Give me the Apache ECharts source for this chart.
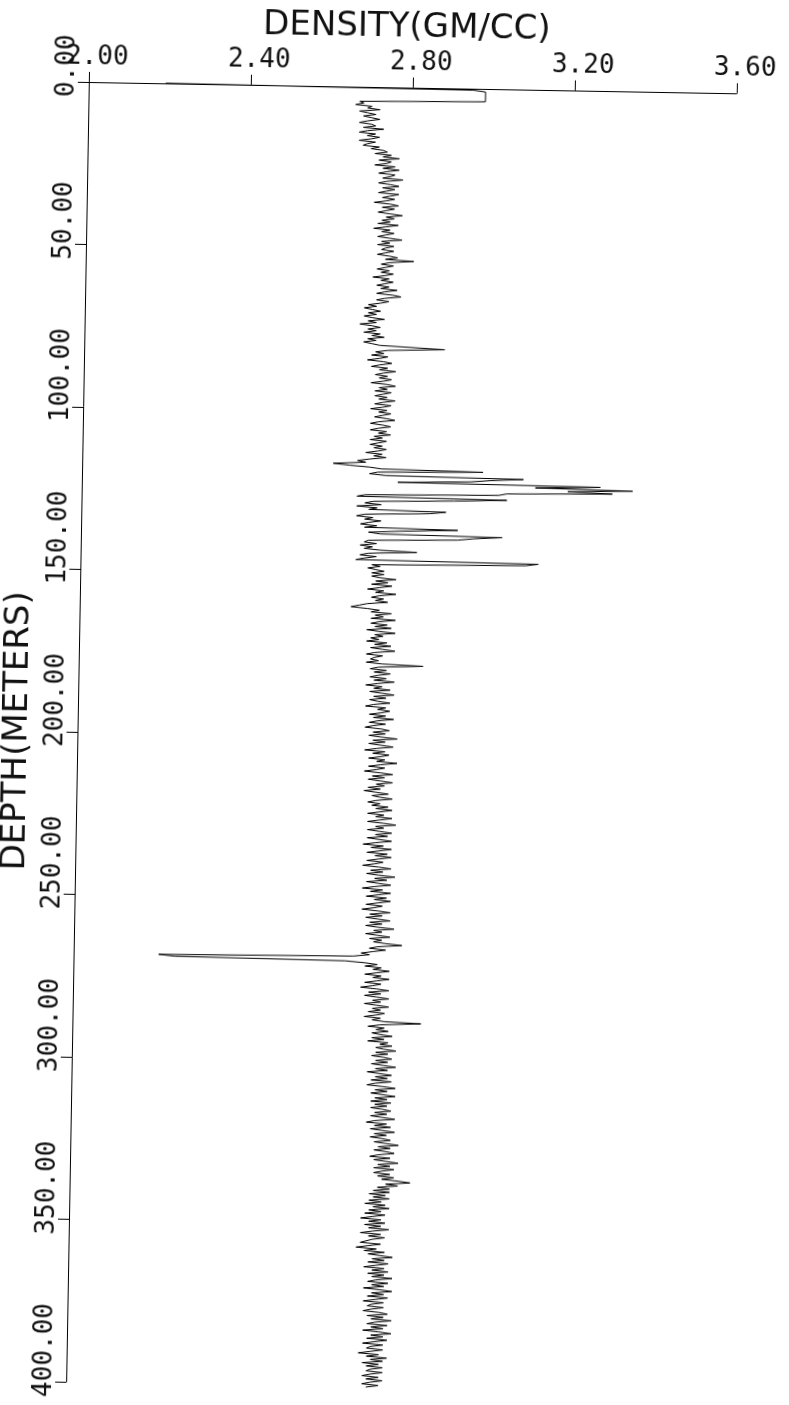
<!DOCTYPE html>
<html>
<head>
<meta charset="utf-8">
<title>Density log</title>
<script src="https://cdn.jsdelivr.net/npm/echarts/dist/echarts.min.js"></script>
<style>
  html, body { margin: 0; padding: 0; background: #fff; }
  #chart {
    width: 789px; height: 1405px;
    transform: rotate(1deg);
    transform-origin: 89px 72px;
  }
</style>
</head>
<body>
<div id="chart"></div>
<script>
// Axis ranges and ticks
const densityTicks = [2.00, 2.40, 2.80, 3.20, 3.60];
const depthTicks = [0, 50, 100, 150, 200, 250, 300, 350, 400];

// Header of the log: the tool comes off the surface reading
const leadDepth   = [0, 0.5, 1, 4, 4.5];
const leadDensity = [2.19, 2.95, 2.98, 2.98, 2.67];

// Main log, one reading every half metre from 5 m to 400 m (g/cc)
const logStart = 5;
const logStep = 0.5;
const logDensity = [
  2.68, 2.66, 2.70, 2.69, 2.72, 2.67, 2.69, 2.71, 2.68, 2.70,   // 5
  2.72, 2.69, 2.67, 2.70, 2.71, 2.68, 2.73, 2.69, 2.67, 2.71,   // 10
  2.69, 2.72, 2.70, 2.67, 2.71, 2.69, 2.68, 2.72, 2.70, 2.73,   // 15
  2.74, 2.71, 2.75, 2.73, 2.77, 2.72, 2.75, 2.74, 2.71, 2.76,   // 20
  2.73, 2.77, 2.74, 2.72, 2.76, 2.75, 2.73, 2.78, 2.74, 2.72,   // 25
  2.75, 2.77, 2.73, 2.76, 2.74, 2.72, 2.77, 2.75, 2.73, 2.76,   // 30
  2.74, 2.71, 2.75, 2.77, 2.73, 2.76, 2.74, 2.72, 2.75, 2.78,   // 35
  2.74, 2.76, 2.73, 2.75, 2.72, 2.77, 2.74, 2.71, 2.75, 2.73,   // 40
  2.76, 2.74, 2.72, 2.75, 2.78, 2.73, 2.75, 2.72, 2.76, 2.74,   // 45
  2.73, 2.76, 2.74, 2.72, 2.75, 2.77, 2.74, 2.81, 2.75, 2.73,   // 50
  2.76, 2.74, 2.72, 2.75, 2.73, 2.76, 2.74, 2.71, 2.75, 2.73,   // 55
  2.76, 2.74, 2.72, 2.75, 2.73, 2.77, 2.74, 2.72, 2.76, 2.78,   // 60
  2.74, 2.72, 2.75, 2.73, 2.70, 2.72, 2.69, 2.71, 2.73, 2.70,   // 65
  2.72, 2.69, 2.71, 2.74, 2.70, 2.72, 2.68, 2.71, 2.73, 2.70,   // 70
  2.72, 2.69, 2.73, 2.71, 2.74, 2.70, 2.72, 2.69, 2.71, 2.73,   // 75
  2.73, 2.89, 2.75, 2.72, 2.74, 2.71, 2.75, 2.73, 2.70, 2.74,   // 80
  2.76, 2.73, 2.71, 2.75, 2.73, 2.77, 2.74, 2.72, 2.75, 2.73,   // 85
  2.76, 2.74, 2.71, 2.75, 2.77, 2.73, 2.75, 2.72, 2.76, 2.74,   // 90
  2.72, 2.75, 2.73, 2.77, 2.74, 2.72, 2.76, 2.74, 2.71, 2.75,   // 95
  2.73, 2.76, 2.74, 2.72, 2.75, 2.77, 2.73, 2.71, 2.74, 2.76,   // 100
  2.73, 2.71, 2.75, 2.73, 2.76, 2.72, 2.74, 2.71, 2.75, 2.73,   // 105
  2.71, 2.74, 2.72, 2.75, 2.73, 2.70, 2.74, 2.72, 2.75, 2.71,   // 110
  2.68, 2.70, 2.62, 2.66, 2.71, 2.74, 2.99, 2.73, 2.71, 2.75,   // 115
  3.09, 3.01, 2.96, 2.78, 3.28, 3.12, 3.36, 3.20, 3.31, 3.05,   // 120
  3.03, 2.70, 2.68, 3.05, 2.92, 2.72, 2.70, 2.74, 2.68, 2.73,   // 125
  2.71, 2.90, 2.86, 2.70, 2.68, 2.72, 2.70, 2.74, 2.71, 2.69,   // 130
  2.73, 2.70, 2.93, 2.80, 2.71, 2.74, 3.04, 2.97, 2.93, 2.71,   // 135
  2.70, 2.73, 2.69, 2.72, 2.70, 2.74, 2.83, 2.71, 2.69, 2.73,   // 140
  2.70, 2.68, 3.13, 3.10, 2.72, 2.74, 2.71, 2.73, 2.75, 2.72,   // 145
  2.75, 2.72, 2.74, 2.78, 2.73, 2.76, 2.72, 2.77, 2.74, 2.71,   // 150
  2.75, 2.73, 2.78, 2.74, 2.72, 2.75, 2.73, 2.76, 2.71, 2.69,   // 155
  2.67, 2.71, 2.74, 2.72, 2.77, 2.73, 2.75, 2.72, 2.78, 2.74,   // 160
  2.72, 2.76, 2.73, 2.77, 2.71, 2.74, 2.78, 2.73, 2.75, 2.72,   // 165
  2.74, 2.71, 2.76, 2.73, 2.77, 2.72, 2.75, 2.78, 2.73, 2.71,   // 170
  2.75, 2.73, 2.72, 2.74, 2.71, 2.75, 2.85, 2.74, 2.72, 2.76,   // 175
  2.73, 2.77, 2.74, 2.72, 2.76, 2.73, 2.78, 2.74, 2.71, 2.75,   // 180
  2.73, 2.77, 2.72, 2.75, 2.78, 2.73, 2.76, 2.72, 2.74, 2.77,   // 185
  2.73, 2.71, 2.76, 2.74, 2.77, 2.75, 2.72, 2.76, 2.73, 2.78,   // 190
  2.74, 2.72, 2.76, 2.73, 2.71, 2.75, 2.77, 2.73, 2.76, 2.72,   // 195
  2.75, 2.79, 2.73, 2.76, 2.72, 2.75, 2.78, 2.74, 2.71, 2.76,   // 200
  2.73, 2.77, 2.75, 2.72, 2.76, 2.74, 2.79, 2.75, 2.72, 2.76,   // 205
  2.74, 2.71, 2.75, 2.78, 2.73, 2.76, 2.72, 2.75, 2.78, 2.74,   // 210
  2.76, 2.72, 2.75, 2.71, 2.74, 2.77, 2.73, 2.75, 2.78, 2.74,   // 215
  2.72, 2.75, 2.73, 2.77, 2.74, 2.78, 2.75, 2.72, 2.76, 2.74,   // 220
  2.78, 2.75, 2.72, 2.76, 2.79, 2.74, 2.76, 2.72, 2.75, 2.78,   // 225
  2.74, 2.77, 2.72, 2.75, 2.78, 2.74, 2.71, 2.76, 2.73, 2.78,   // 230
  2.75, 2.72, 2.77, 2.74, 2.78, 2.75, 2.72, 2.76, 2.74, 2.71,   // 235
  2.75, 2.78, 2.73, 2.76, 2.72, 2.75, 2.79, 2.74, 2.77, 2.72,   // 240
  2.75, 2.78, 2.74, 2.71, 2.76, 2.73, 2.78, 2.75, 2.72, 2.77,   // 245
  2.74, 2.78, 2.75, 2.72, 2.76, 2.74, 2.71, 2.75, 2.78, 2.73,   // 250
  2.76, 2.72, 2.75, 2.78, 2.73, 2.76, 2.72, 2.75, 2.79, 2.74,   // 255
  2.76, 2.72, 2.75, 2.78, 2.73, 2.76, 2.74, 2.77, 2.81, 2.75,   // 260
  2.73, 2.77, 2.74, 2.71, 2.73, 2.69, 2.21, 2.25, 2.67, 2.72,   // 265
  2.75, 2.72, 2.76, 2.74, 2.78, 2.75, 2.72, 2.76, 2.74, 2.78,   // 270
  2.75, 2.72, 2.76, 2.74, 2.71, 2.75, 2.78, 2.73, 2.76, 2.72,   // 275
  2.75, 2.78, 2.74, 2.76, 2.72, 2.75, 2.78, 2.74, 2.76, 2.73,   // 280
  2.77, 2.75, 2.72, 2.76, 2.74, 2.77, 2.86, 2.76, 2.73, 2.77,   // 285
  2.75, 2.78, 2.74, 2.76, 2.79, 2.74, 2.77, 2.73, 2.78, 2.76,   // 290
  2.79, 2.75, 2.77, 2.80, 2.75, 2.78, 2.74, 2.77, 2.79, 2.75,   // 295
  2.78, 2.74, 2.77, 2.80, 2.75, 2.78, 2.73, 2.76, 2.79, 2.75,   // 300
  2.78, 2.74, 2.79, 2.75, 2.73, 2.77, 2.80, 2.75, 2.78, 2.74,   // 305
  2.77, 2.80, 2.75, 2.78, 2.74, 2.79, 2.75, 2.78, 2.74, 2.77,   // 310
  2.79, 2.75, 2.78, 2.74, 2.77, 2.80, 2.75, 2.73, 2.78, 2.75,   // 315
  2.79, 2.74, 2.77, 2.80, 2.75, 2.78, 2.74, 2.77, 2.79, 2.75,   // 320
  2.78, 2.81, 2.76, 2.79, 2.75, 2.78, 2.80, 2.76, 2.74, 2.79,   // 325
  2.75, 2.78, 2.81, 2.76, 2.79, 2.75, 2.80, 2.77, 2.75, 2.79,   // 330
  2.76, 2.80, 2.77, 2.81, 2.84, 2.78, 2.81, 2.76, 2.79, 2.75,   // 335
  2.79, 2.74, 2.78, 2.75, 2.79, 2.74, 2.77, 2.73, 2.78, 2.75,   // 340
  2.79, 2.74, 2.77, 2.73, 2.78, 2.75, 2.72, 2.77, 2.74, 2.78,   // 345
  2.73, 2.77, 2.74, 2.79, 2.75, 2.72, 2.77, 2.74, 2.78, 2.75,   // 350
  2.75, 2.72, 2.77, 2.74, 2.71, 2.76, 2.73, 2.78, 2.74, 2.77,   // 355
  2.80, 2.75, 2.78, 2.74, 2.79, 2.76, 2.73, 2.78, 2.75, 2.79,   // 360
  2.74, 2.78, 2.75, 2.80, 2.76, 2.74, 2.79, 2.75, 2.78, 2.73,   // 365
  2.77, 2.80, 2.75, 2.78, 2.74, 2.79, 2.76, 2.73, 2.78, 2.75,   // 370
  2.74, 2.78, 2.75, 2.73, 2.77, 2.79, 2.74, 2.78, 2.75, 2.80,   // 375
  2.76, 2.74, 2.79, 2.75, 2.78, 2.73, 2.77, 2.80, 2.75, 2.78,   // 380
  2.74, 2.79, 2.76, 2.73, 2.78, 2.75, 2.74, 2.78, 2.75, 2.72,   // 385
  2.77, 2.74, 2.79, 2.75, 2.78, 2.73, 2.77, 2.74, 2.78, 2.75,   // 390
  2.74, 2.78, 2.75, 2.73, 2.77, 2.74, 2.78, 2.75, 2.73, 2.77,   // 395
  2.74                                                          // 400
];

// Assemble [density, depth] pairs in drilling order
const points = [];
leadDepth.forEach((d, i) => points.push([leadDensity[i], d]));
logDensity.forEach((v, i) => points.push([v, logStart + i * logStep]));

const MONO = '"DejaVu Sans Mono", "Liberation Mono", monospace';
const SANS = '"DejaVu Sans", "Liberation Sans", sans-serif';
const CW = 15.65; // advance of one tick-label character

const chart = echarts.init(document.getElementById('chart'), null, { renderer: 'canvas' });
chart.setOption({
  animation: false,
  backgroundColor: '#ffffff',
  grid: { left: 89, top: 72, width: 648, height: 1310, containLabel: false },
  xAxis: {
    type: 'value',
    position: 'top',
    min: densityTicks[0],
    max: densityTicks[densityTicks.length - 1],
    interval: 0.4,
    name: 'DENSITY(GM/CC)',
    nameLocation: 'middle',
    nameGap: 30,
    nameTextStyle: { fontFamily: SANS, fontSize: 34, color: '#111', padding: [0, 14, 0, 0] },
    axisLine: { show: true, onZero: false, lineStyle: { color: '#000', width: 1 } },
    axisTick: { show: true, inside: false, length: 10, lineStyle: { color: '#000', width: 1 } },
    axisLabel: {
      show: true,
      margin: 12,
      fontFamily: MONO,
      fontSize: 26,
      color: '#111',
      align: 'center',
      padding: [0, 0, 0, 16],
      formatter: v => v.toFixed(2)
    },
    splitLine: { show: false }
  },
  yAxis: {
    type: 'value',
    inverse: true,
    min: depthTicks[0],
    max: depthTicks[depthTicks.length - 1],
    interval: 50,
    name: 'DEPTH(METERS)',
    nameLocation: 'middle',
    nameGap: 29,
    nameRotate: 90,
    nameTextStyle: { fontFamily: SANS, fontSize: 34, color: '#111' },
    axisLine: { show: true, onZero: false, lineStyle: { color: '#000', width: 1 } },
    axisTick: { show: true, inside: false, length: 11, lineStyle: { color: '#000', width: 1 } },
    axisLabel: {
      show: true,
      rotate: 90,
      margin: 9,
      align: 'center',
      verticalAlign: 'bottom',
      fontFamily: MONO,
      fontSize: 26,
      color: '#111',
      formatter: v => {
        const s = v.toFixed(2);
        return '{p' + s.length + '|' + s + '}';
      },
      rich: {
        p4: { fontFamily: MONO, fontSize: 26, color: '#111', padding: [0, 0, 0, 2 * CW] },
        p5: { fontFamily: MONO, fontSize: 26, color: '#111', padding: [0, 0, 0, 3 * CW] },
        p6: { fontFamily: MONO, fontSize: 26, color: '#111', padding: [0, 0, 0, 4 * CW] }
      }
    },
    splitLine: { show: false }
  },
  series: [{
    type: 'line',
    data: points,
    showSymbol: false,
    symbol: 'none',
    clip: false,
    lineStyle: { color: '#000', width: 1 },
    silent: true
  }]
});
</script>
</body>
</html>
